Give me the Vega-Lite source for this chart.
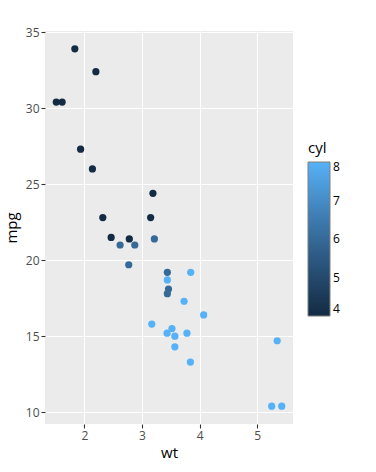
{
  "$schema": "https://vega.github.io/schema/vega-lite/v6.json",
  "autosize": "none",
  "width": 248,
  "height": 393,
  "padding": {"left": 45, "top": 31, "right": 83, "bottom": 48},
  "background": "white",
  "config": {
    "font": "Open Sans",
    "view": {"fill": "#EBEBEB", "stroke": null},
    "axis": {
      "domain": false,
      "grid": true,
      "gridColor": "white",
      "gridWidth": 1.1,
      "tickColor": "#333333",
      "tickSize": 4,
      "tickWidth": 1.1,
      "labelColor": "#4D4D4D",
      "labelFontSize": 12,
      "labelFont": "Open Sans",
      "titleFont": "Open Sans",
      "titleFontSize": 15,
      "titleFontWeight": "normal",
      "titleColor": "black",
      "labelPadding": 2
    }
  },
  "data": {
    "values": [
      {"wt": 2.620, "mpg": 21.0, "cyl": 6},
      {"wt": 2.875, "mpg": 21.0, "cyl": 6},
      {"wt": 2.320, "mpg": 22.8, "cyl": 4},
      {"wt": 3.215, "mpg": 21.4, "cyl": 6},
      {"wt": 3.440, "mpg": 18.7, "cyl": 8},
      {"wt": 3.460, "mpg": 18.1, "cyl": 6},
      {"wt": 3.570, "mpg": 14.3, "cyl": 8},
      {"wt": 3.190, "mpg": 24.4, "cyl": 4},
      {"wt": 3.150, "mpg": 22.8, "cyl": 4},
      {"wt": 3.440, "mpg": 19.2, "cyl": 6},
      {"wt": 3.440, "mpg": 17.8, "cyl": 6},
      {"wt": 4.070, "mpg": 16.4, "cyl": 8},
      {"wt": 3.730, "mpg": 17.3, "cyl": 8},
      {"wt": 3.780, "mpg": 15.2, "cyl": 8},
      {"wt": 5.250, "mpg": 10.4, "cyl": 8},
      {"wt": 5.424, "mpg": 10.4, "cyl": 8},
      {"wt": 5.345, "mpg": 14.7, "cyl": 8},
      {"wt": 2.200, "mpg": 32.4, "cyl": 4},
      {"wt": 1.615, "mpg": 30.4, "cyl": 4},
      {"wt": 1.835, "mpg": 33.9, "cyl": 4},
      {"wt": 2.465, "mpg": 21.5, "cyl": 4},
      {"wt": 3.520, "mpg": 15.5, "cyl": 8},
      {"wt": 3.435, "mpg": 15.2, "cyl": 8},
      {"wt": 3.840, "mpg": 13.3, "cyl": 8},
      {"wt": 3.845, "mpg": 19.2, "cyl": 8},
      {"wt": 1.935, "mpg": 27.3, "cyl": 4},
      {"wt": 2.140, "mpg": 26.0, "cyl": 4},
      {"wt": 1.513, "mpg": 30.4, "cyl": 4},
      {"wt": 3.170, "mpg": 15.8, "cyl": 8},
      {"wt": 2.770, "mpg": 19.7, "cyl": 6},
      {"wt": 3.570, "mpg": 15.0, "cyl": 8},
      {"wt": 2.780, "mpg": 21.4, "cyl": 4}
    ]
  },
  "mark": {"type": "point", "filled": true, "opacity": 1, "size": 52},
  "encoding": {
    "x": {
      "field": "wt", "type": "quantitative",
      "scale": {"domain": [1.3175, 5.6195], "nice": false, "zero": false},
      "axis": {"values": [2, 3, 4, 5], "title": "wt", "titlePadding": 4}
    },
    "y": {
      "field": "mpg", "type": "quantitative",
      "scale": {"domain": [9.225, 35.075], "nice": false, "zero": false},
      "axis": {"values": [10, 15, 20, 25, 30, 35], "title": "mpg", "titlePadding": 6}
    },
    "color": {
      "field": "cyl", "type": "quantitative",
      "scale": {"domain": [4, 8], "range": ["#132B43", "#56B1F7"]},
      "legend": {
        "orient": "none",
        "legendX": 263,
        "legendY": 110,
        "title": "cyl",
        "titleFontSize": 15,
        "titleFontWeight": "normal",
        "titleColor": "black",
        "titleFont": "Open Sans",
        "titlePadding": 6,
        "gradientLength": 154,
        "gradientThickness": 22,
        "gradientStrokeColor": "#7F7F7F",
        "gradientStrokeWidth": 1,
        "values": [4, 5, 6, 7, 8],
        "labelFontSize": 12,
        "labelColor": "black",
        "labelFont": "Open Sans",
        "labelOffset": 3,
        "labelOverlap": false,
        "encode": {
          "labels": {
            "update": {"dy": {"signal": "datum.value >= 8 ? -6 : datum.value <= 4 ? 5 : 0"}}
          }
        }
      }
    }
  }
}
